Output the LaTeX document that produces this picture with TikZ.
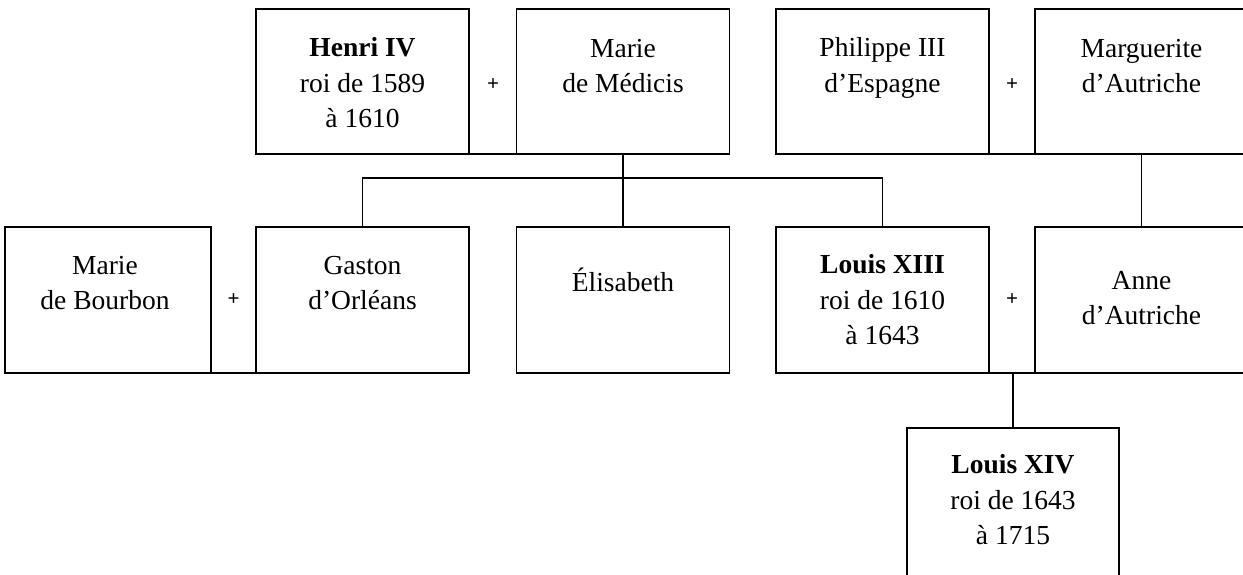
\documentclass[tikz,border=0pt]{standalone}
\usepackage{fontspec}
\setmainfont{Liberation Serif}
\begin{document}
\begin{tikzpicture}[x=1pt,y=-1pt,
  box/.style={draw, line width=1.8pt, minimum width=213pt, minimum height=145pt, inner sep=0pt, outer sep=0pt},
  txt/.style={align=center, inner sep=0pt, font=\fontsize{27.5}{35.5}\selectfont},
  plus/.style={inner sep=0pt, font=\fontsize{21}{22}\selectfont\bfseries},
  link/.style={line width=1.8pt}]
\useasboundingbox (0,0) rectangle (1243,574);
\clip (0,0) rectangle (1243,574);
% boxes
\node[box] (henri) at (362.5,81.5) {};
\node[box] (marie) at (623,81.5) {};
\node[box] (phil) at (882.5,81.5) {};
\node[box] (marg) at (1141.5,81.5) {};
\node[box, minimum width=206pt, minimum height=146pt] (bourbon) at (108,300) {};
\node[box, minimum height=146pt] (gaston) at (362.5,300) {};
\node[box, minimum height=146pt] (elis) at (623,300) {};
\node[box, minimum height=146pt] (louis13) at (882.5,300) {};
\node[box, minimum height=146pt] (anne) at (1141.5,300) {};
\node[box, minimum width=212pt, minimum height=160pt] (louis14) at (1013,508) {};
% texts
\node[txt] (henriT) at (362.5,83) {\textbf{Henri IV}\\roi de 1589\\à 1610};
\node[txt] (marieT) at (623,66) {Marie\\de Médicis};
\node[txt] (philT) at (882.5,68) {Philippe III\\d'Espagne};
\node[txt] (margT) at (1141.5,66) {Marguerite\\d'Autriche};
\node[txt] (bourbonT) at (105,283) {Marie\\de Bourbon};
\node[txt] (gastonT) at (362.5,283) {Gaston\\d'Orléans};
\node[txt] (elisT) at (623,280) {Élisabeth};
\node[txt] (louis13T) at (882.5,300) {\textbf{Louis XIII}\\roi de 1610\\à 1643};
\node[txt] (anneT) at (1141.5,298) {Anne\\d'Autriche};
\node[txt] (louis14T) at (1013,500) {\textbf{Louis XIV}\\roi de 1643\\à 1715};
% plus signs
\node[plus] (p1) at (493,85) {+};
\node[plus] (p2) at (1012,85) {+};
\node[plus] (p3) at (233.5,300) {+};
\node[plus] (p4) at (1012,300) {+};
% connectors
\coordinate (fork) at (623,178);
\draw[link] (henri.south east) -- (marie.south west);
\draw[link] (marie.south) -- (fork);
\draw[link] (gaston.north) |- (fork) -| (louis13.north);
\draw[link] (fork) -- (elis.north);
\draw[link] (phil.south east) -- (marg.south west);
\draw[link] (marg.south) -- (anne.north);
\draw[link] (bourbon.south east) -- (gaston.south west);
\draw[link] (louis13.south east) -- (anne.south west);
\draw[link] (louis14.north) -- (louis14.north |- anne.south);
\end{tikzpicture}
\end{document}
